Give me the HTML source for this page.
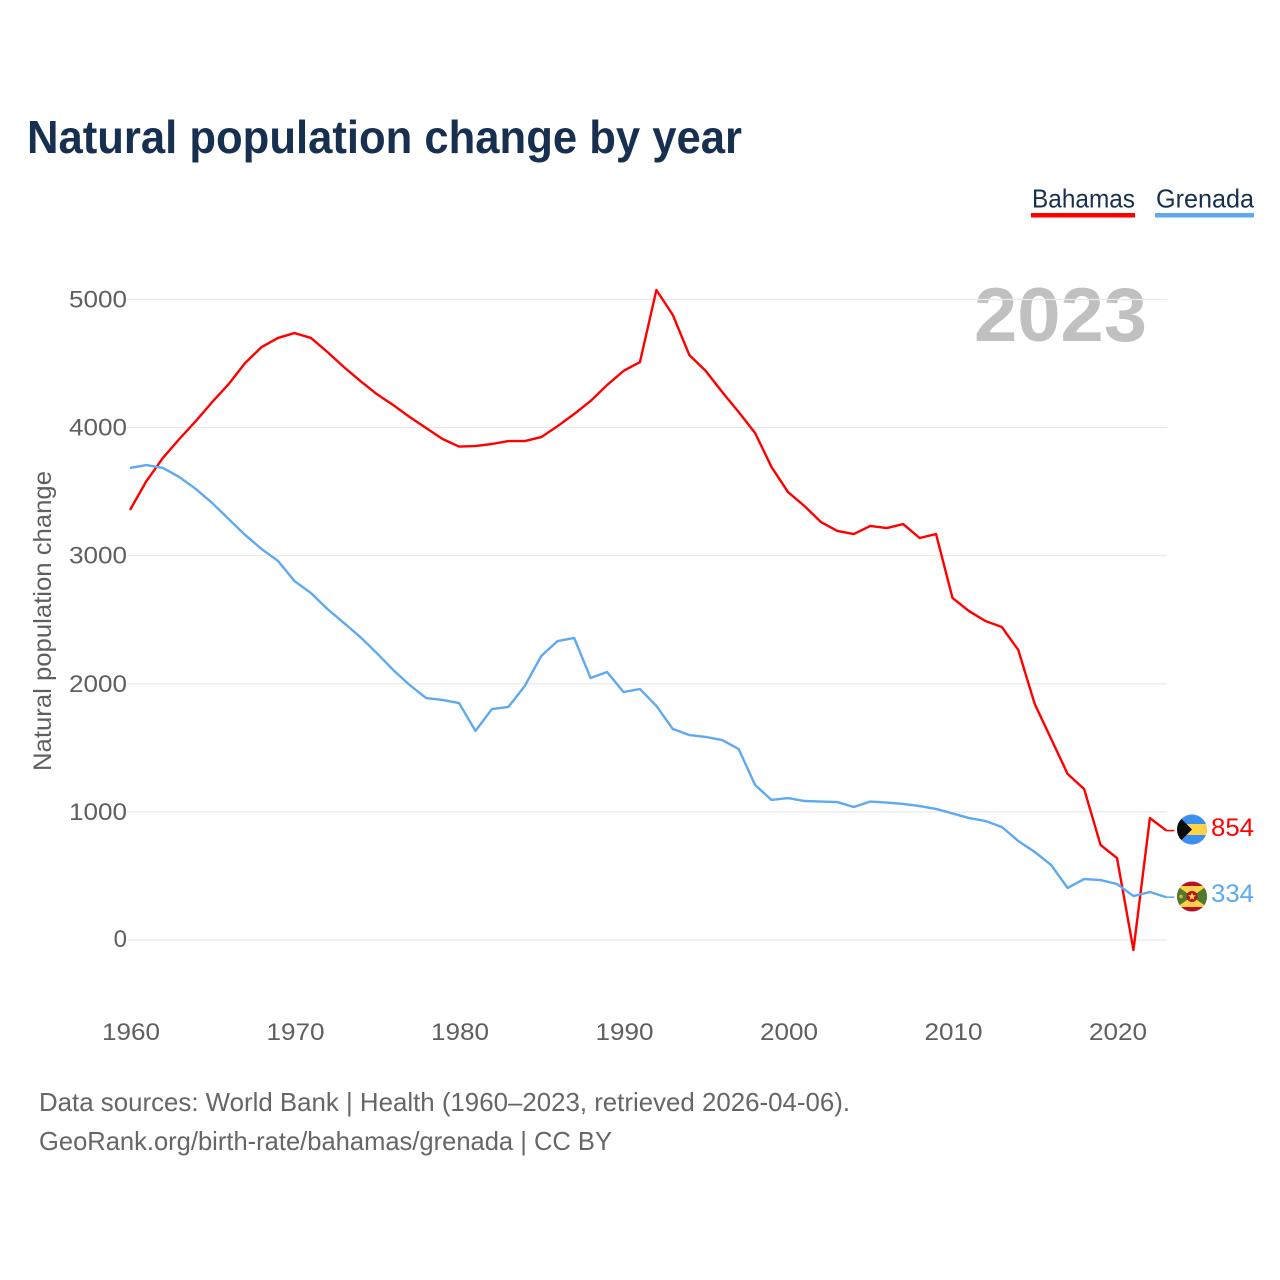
<!DOCTYPE html>
<html lang="en">
<head>
<meta charset="utf-8">
<title>Natural population change by year</title>
<style>
html,body{margin:0;padding:0;background:#fff;width:1280px;height:1280px;overflow:hidden}
svg{display:block}
text{font-family:"Liberation Sans",sans-serif}
</style>
</head>
<body>
<svg id="chart" xmlns="http://www.w3.org/2000/svg" width="1280" height="1280" viewBox="0 0 1280 1280">
  <defs>
    <clipPath id="flag-clip-a"><circle cx="1192" cy="829.5" r="15"></circle></clipPath>
    <clipPath id="flag-clip-b"><circle cx="1192" cy="896.5" r="15"></circle></clipPath>
  </defs>
  <text x="27" y="153" font-size="46" font-weight="700" fill="#18304f" textLength="715" lengthAdjust="spacingAndGlyphs">Natural population change by year</text>

  <g>
    <g>
      <text x="1032" y="207.5" font-size="26" fill="#18304f" textLength="103" lengthAdjust="spacingAndGlyphs">Bahamas</text>
      <rect x="1031" y="213" width="104" height="4.5" fill="#ff0000"></rect>
    </g>
    <g>
      <text x="1156" y="207.5" font-size="26" fill="#18304f" textLength="98" lengthAdjust="spacingAndGlyphs">Grenada</text>
      <rect x="1155" y="213" width="99" height="4.5" fill="#5ea9ef"></rect>
    </g>
  </g>

  <text x="974" y="341" font-size="76" font-weight="700" fill="#c0c0c0" textLength="173" lengthAdjust="spacingAndGlyphs">2023</text>
  <text transform="translate(51,621) rotate(-90)" text-anchor="middle" font-size="25" fill="#5f5f5f" textLength="300" lengthAdjust="spacingAndGlyphs">Natural population change</text>

  <g id="y-grid"></g>
  <g id="x-axis"></g>
  <g id="series"></g>

  <g clip-path="url(#flag-clip-a)">
    <rect x="1177" y="814" width="30" height="31" fill="#3b8ff0"></rect>
    <rect x="1177" y="824" width="30" height="11" fill="#ffd24a"></rect>
    <polygon points="1175,812.5 1192,829.5 1175,846.5" fill="#0a0a0a"></polygon>
  </g>
  <g clip-path="url(#flag-clip-b)">
    <rect x="1177" y="881" width="30" height="31" fill="#b01226"></rect>
    <rect x="1177" y="886" width="30" height="21" fill="#ffd24a"></rect>
    <polygon points="1177,886 1192,896.5 1177,907" fill="#4d7a2c"></polygon>
    <polygon points="1207,886 1192,896.5 1207,907" fill="#4d7a2c"></polygon>
    <circle cx="1192" cy="896.5" r="5.5" fill="#b01226"></circle>
    <polygon points="1192,892.5 1193.1,895.2 1196,895.3 1193.7,897.1 1194.5,900 1192,898.4 1189.5,900 1190.3,897.1 1188,895.3 1190.9,895.2" fill="#ffd24a"></polygon>
    <circle cx="1181" cy="896.5" r="1.8" fill="#e0b030"></circle>
  </g>
  <text x="1211" y="836" font-size="25" fill="#ff0000" textLength="43" lengthAdjust="spacingAndGlyphs">854</text>
  <text x="1211" y="902" font-size="25" fill="#5ea9ef" textLength="43" lengthAdjust="spacingAndGlyphs">334</text>

  <text x="39" y="1111" font-size="26" fill="#666666" textLength="811" lengthAdjust="spacingAndGlyphs">Data sources: World Bank | Health (1960–2023, retrieved 2026-04-06).</text>
  <text x="39" y="1150" font-size="26" fill="#666666" textLength="573" lengthAdjust="spacingAndGlyphs">GeoRank.org/birth-rate/bahamas/grenada | CC BY</text>
</svg>
<script>
const years = [1960,1961,1962,1963,1964,1965,1966,1967,1968,1969,1970,1971,1972,1973,1974,1975,1976,1977,1978,1979,1980,1981,1982,1983,1984,1985,1986,1987,1988,1989,1990,1991,1992,1993,1994,1995,1996,1997,1998,1999,2000,2001,2002,2003,2004,2005,2006,2007,2008,2009,2010,2011,2012,2013,2014,2015,2016,2017,2018,2019,2020,2021,2022,2023];
const bahamas = [3357,3583,3763,3911,4051,4200,4340,4504,4629,4700,4738,4700,4590,4473,4364,4262,4176,4083,3997,3911,3852,3856,3872,3895,3895,3926,4012,4106,4208,4332,4442,4512,5074,4879,4567,4442,4278,4122,3958,3692,3497,3388,3263,3193,3169,3232,3216,3247,3138,3169,2670,2568,2490,2443,2264,1842,1569,1296,1179,742,640,-78,952,854];
const grenada = [3685,3708,3685,3614,3521,3411,3286,3162,3052,2959,2802,2709,2584,2475,2365,2240,2108,1991,1889,1874,1850,1632,1803,1819,1983,2217,2334,2358,2045,2092,1936,1959,1827,1647,1600,1585,1561,1491,1210,1093,1108,1085,1081,1077,1038,1081,1073,1062,1046,1023,988,952,929,882,773,687,585,406,476,468,437,343,375,334];
const yTicks = [0,1000,2000,3000,4000,5000];
const xTicks = [1960,1970,1980,1990,2000,2010,2020];

const NS = 'http://www.w3.org/2000/svg';
function xScale(year) { return 130 + (year - 1960) * 16.45; }
function yScale(value) { return 940 - value * 0.1281; }

const gridGroup = document.getElementById('y-grid');
yTicks.forEach(function (tick) {
  const line = document.createElementNS(NS, 'line');
  
  
  line.setAttribute('x1', 127);
  line.setAttribute('x2', 1167);
  line.setAttribute('y1', yScale(tick));
  line.setAttribute('y2', yScale(tick));
  line.setAttribute('stroke', '#e9e9e9');
  line.setAttribute('stroke-width', 1.2);
  gridGroup.appendChild(line);
  const label = document.createElementNS(NS, 'text');
  
  
  label.setAttribute('x', 127);
  label.setAttribute('y', yScale(tick) + (tick === 0 ? 7 : 8));
  label.setAttribute('text-anchor', 'end');
  label.setAttribute('font-size', 24);
  label.setAttribute('fill', '#5f5f5f');
  if (tick !== 0) {
    label.setAttribute('textLength', 58);
    label.setAttribute('lengthAdjust', 'spacingAndGlyphs');
  }
  label.textContent = String(tick);
  gridGroup.appendChild(label);
});

const xGroup = document.getElementById('x-axis');
xTicks.forEach(function (tick) {
  const label = document.createElementNS(NS, 'text');
  
  
  label.setAttribute('x', 131 + (tick - 1960) * 16.45);
  label.setAttribute('y', 1040);
  label.setAttribute('text-anchor', 'middle');
  label.setAttribute('font-size', 24);
  label.setAttribute('fill', '#5f5f5f');
  label.setAttribute('textLength', 58);
  label.setAttribute('lengthAdjust', 'spacingAndGlyphs');
  label.textContent = String(tick);
  xGroup.appendChild(label);
});

function drawSeries(values, color, lineName, stubName) {
  const group = document.getElementById('series');
  const points = values.map(function (v, i) {
    return xScale(years[i]).toFixed(2) + ',' + yScale(v).toFixed(2);
  }).join(' ');
  const line = document.createElementNS(NS, 'polyline');
  
  
  line.setAttribute('points', points);
  line.setAttribute('fill', 'none');
  line.setAttribute('stroke', color);
  line.setAttribute('stroke-width', 2.4);
  line.setAttribute('stroke-linejoin', 'round');
  group.appendChild(line);
  const last = values[values.length - 1];
  const lastX = xScale(years[years.length - 1]);
  const stub = document.createElementNS(NS, 'line');
  
  
  stub.setAttribute('x1', lastX);
  stub.setAttribute('x2', lastX + 8);
  stub.setAttribute('y1', yScale(last));
  stub.setAttribute('y2', yScale(last));
  stub.setAttribute('stroke', color);
  stub.setAttribute('stroke-width', 1.6);
  group.appendChild(stub);
}
drawSeries(bahamas, '#ff0000', 'line-bahamas', 'connector-bahamas');
drawSeries(grenada, '#5ea9ef', 'line-grenada', 'connector-grenada');
</script>
</body>
</html>
